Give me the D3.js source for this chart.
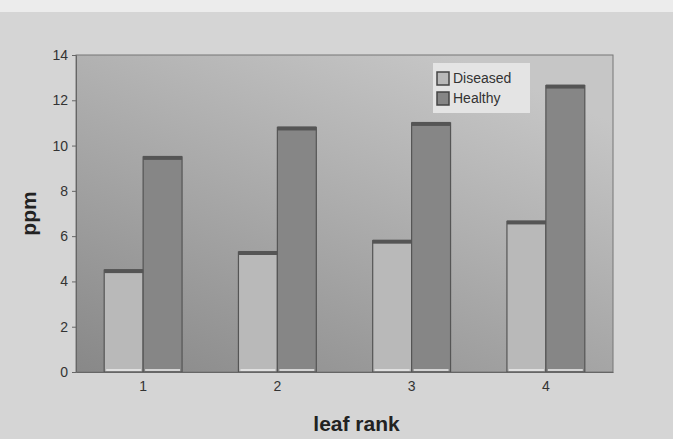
<!DOCTYPE html>
<html>
<head>
<meta charset="utf-8">
<script src="https://cdn.jsdelivr.net/npm/d3@7"></script>
<style>
  body { margin: 0; background: #d5d5d5; }
  svg { display: block; font-family: Arial, "Liberation Sans", sans-serif; }
</style>
</head>
<body>
<svg width="673" height="439"></svg>
<script>
// leaf rank categories and the two series (ppm)
var ranks = ["1", "2", "3", "4"];
var seriesNames = ["Diseased", "Healthy"];
var diseased = [4.5, 5.3, 5.8, 6.65];
var healthy = [9.5, 10.8, 11.0, 12.65];
var yTicks = [0, 2, 4, 6, 8, 10, 12, 14];

var svg = d3.select("svg"),
    width = +svg.attr("width"),
    height = +svg.attr("height");

var margin = {left: 76, right: 60, top: 55, bottom: 67};
var x0 = d3.scaleBand().domain(ranks)
    .range([margin.left, width - margin.right])
    .paddingInner(0.42).paddingOuter(0.21);
var x1 = d3.scaleBand().domain(seriesNames).range([0, x0.bandwidth()]);
var y = d3.scaleLinear().domain([0, 14]).range([height - margin.bottom, margin.top]);

var fills = {Diseased: "#b9b9b9", Healthy: "#868686"};

// scanned page background
svg.append("rect").attr("width", width).attr("height", height).attr("fill", "#d5d5d5");
svg.append("rect").attr("width", width).attr("height", 12).attr("fill", "#ececec");

var defs = svg.append("defs");
var grad = defs.append("linearGradient").attr("id", "bg")
    .attr("x1", "0%").attr("y1", "100%").attr("x2", "70%").attr("y2", "0%");
grad.append("stop").attr("offset", "0%").attr("stop-color", "#888");
grad.append("stop").attr("offset", "100%").attr("stop-color", "#c6c6c6");

var pl = margin.left, pr = width - margin.right;
svg.append("rect")
    .attr("x", pl).attr("y", y(14))
    .attr("width", pr - pl).attr("height", y(0) - y(14))
    .attr("fill", "url(#bg)")
    .attr("stroke", "#777").attr("stroke-width", 1);

// bars
var data = ranks.map((r, i) => ({rank: r, vals: [
    {name: "Diseased", v: diseased[i]},
    {name: "Healthy", v: healthy[i]}
]}));

var groups = svg.append("g").selectAll("g")
    .data(data).enter().append("g")
      .attr("transform", d => "translate(" + x0(d.rank) + ",0)");

groups.selectAll("rect.bar")
    .data(d => d.vals).enter().append("rect")
      .attr("class", "bar")
      .attr("x", d => x1(d.name))
      .attr("y", d => y(d.v))
      .attr("width", x1.bandwidth())
      .attr("height", d => y(0) - y(d.v))
      .attr("fill", d => fills[d.name])
      .attr("stroke", "#555").attr("stroke-width", 1.2);

// darker top edge
groups.selectAll("rect.top")
    .data(d => d.vals).enter().append("rect")
      .attr("class", "top")
      .attr("x", d => x1(d.name))
      .attr("y", d => y(d.v) - 1)
      .attr("width", x1.bandwidth())
      .attr("height", 4)
      .attr("fill", "#555");

// light baseline
groups.selectAll("line.base")
    .data(d => d.vals).enter().append("line")
      .attr("class", "base")
      .attr("x1", d => x1(d.name) + 2).attr("x2", d => x1(d.name) + x1.bandwidth() - 2)
      .attr("y1", y(0) - 2).attr("y2", y(0) - 2)
      .attr("stroke", "#eee").attr("stroke-width", 1.5);

// axes
var yAxis = svg.append("g")
    .attr("transform", "translate(" + pl + ",0)")
    .call(d3.axisLeft(y).tickValues(yTicks).tickSize(4).tickPadding(4));
yAxis.select(".domain").attr("stroke", "#666");
yAxis.selectAll(".tick line").attr("stroke", "#666");
yAxis.selectAll("text").attr("fill", "#333").style("font-size", "14px");

var xAxis = svg.append("g")
    .attr("transform", "translate(0," + y(0) + ")")
    .call(d3.axisBottom(x0).tickSize(0).tickPadding(9));
xAxis.select(".domain").attr("stroke", "#666");
xAxis.selectAll("text").attr("fill", "#333").style("font-size", "14px");

svg.append("text")
    .attr("transform", "translate(36," + ((y(0) + y(14)) / 2) + ") rotate(-90)")
    .attr("text-anchor", "middle")
    .attr("fill", "#222")
    .style("font-size", "21px").style("font-weight", "bold")
    .text("ppm");

svg.append("text")
    .attr("x", (pl + pr) / 2 + 12).attr("y", 431)
    .attr("text-anchor", "middle")
    .attr("fill", "#222")
    .style("font-size", "21px").style("font-weight", "bold")
    .text("leaf rank");

// legend
var lg = svg.append("g").attr("transform", "translate(433,63)");
lg.append("rect").attr("width", 97).attr("height", 50).attr("fill", "#e4e4e4");
var items = lg.selectAll("g.item").data(seriesNames).enter().append("g")
    .attr("transform", (d, i) => "translate(4," + (9 + i * 20) + ")");
items.append("rect")
    .attr("width", 12).attr("height", 13)
    .attr("fill", d => fills[d])
    .attr("stroke", "#444").attr("stroke-width", 1.5);
items.append("text")
    .attr("x", 16).attr("y", 11)
    .attr("fill", "#333")
    .style("font-size", "14px")
    .text(d => d);
</script>
</body>
</html>
